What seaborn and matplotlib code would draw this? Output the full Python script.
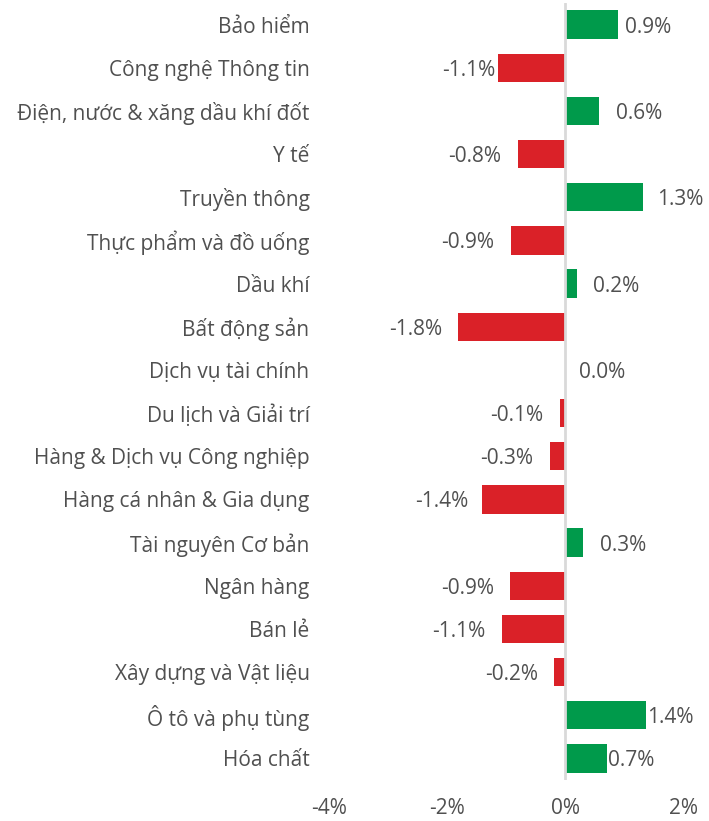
import matplotlib
matplotlib.use("Agg")
import matplotlib.pyplot as plt
import seaborn as sns
import pandas as pd

categories = [
    "Bảo hiểm", "Công nghệ Thông tin", "Điện, nước & xăng dầu khí đốt", "Y tế",
    "Truyền thông", "Thực phẩm và đồ uống", "Dầu khí", "Bất động sản",
    "Dịch vụ tài chính", "Du lịch và Giải trí", "Hàng & Dịch vụ Công nghiệp",
    "Hàng cá nhân & Gia dụng", "Tài nguyên Cơ bản", "Ngân hàng", "Bán lẻ",
    "Xây dựng và Vật liệu", "Ô tô và phụ tùng", "Hóa chất",
]
values = [0.89, -1.13, 0.58, -0.79, 1.33, -0.92, 0.20, -1.81, 0.0, -0.08,
          -0.26, -1.41, 0.31, -0.93, -1.06, -0.19, 1.38, 0.72]
x_ticks = [-4, -2, 0, 2]

# label offsets from bar end, in pixels (layout only)
label_offsets_px = [7, -3, 17, -17, 14, -17, 16, -16, 14, -17, -17, -13, 17, -16, -17, -16, 1, 1]

GREEN = "#009A4B"
RED = "#DA2128"
TEXT = "#505050"

sns.set_theme(style="white")
plt.rcParams["font.family"] = ["Open Sans", "DejaVu Sans"]

df = pd.DataFrame({"cat": categories, "val": values})
df["sign"] = ["pos" if v >= 0 else "neg" for v in values]

fig = plt.figure(figsize=(7.09, 8.21), dpi=100)
ax = fig.add_axes([329 / 709, 1 - 780 / 821, (683 - 329) / 709, (780 - 3) / 821])

sns.barplot(data=df, x="val", y="cat", hue="sign", palette={"pos": GREEN, "neg": RED},
            dodge=False, legend=False, width=0.66, orient="h", ax=ax,
            saturation=1, linewidth=0)

ax.set_xlim(-4, 2)
ax.set_ylim(len(categories) - 0.5, -0.5)
for s in ["top", "right", "bottom", "left"]:
    ax.spines[s].set_visible(False)
ax.axvline(0, color="#d9d9d9", lw=2, zorder=3)

ax.set_xticks(x_ticks)
ax.set_xticklabels([f"{t}%" for t in x_ticks])
ax.tick_params(axis="x", length=0, pad=13, labelsize=15, labelcolor=TEXT)
ax.tick_params(axis="y", length=0, pad=14, labelsize=15, labelcolor=TEXT)
for t in ax.get_yticklabels():
    t.set_verticalalignment("center_baseline")
ax.set_xlabel("")
ax.set_ylabel("")

for i, (v, off) in enumerate(zip(values, label_offsets_px)):
    ha = "left" if off >= 0 and v >= 0 else "right"
    ax.annotate(f"{v:.1f}%", xy=(v, i), xytext=(off * 0.72, 0), textcoords="offset points",
                ha=ha, va="center_baseline", fontsize=15, color=TEXT)

fig.savefig("out.png", dpi=100)
